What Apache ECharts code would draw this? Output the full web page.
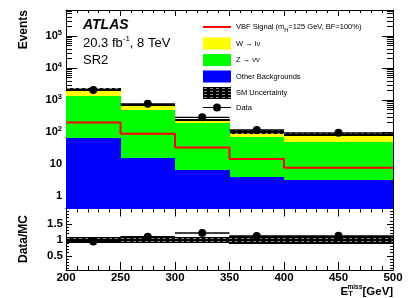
<!DOCTYPE html>
<html><head><meta charset="utf-8">
<script src="https://cdn.jsdelivr.net/npm/echarts@6/dist/echarts.min.js"></script>
<style>html,body{margin:0;padding:0;background:#fff}#c{width:415px;height:298px}</style>
</head><body><div id="c"></div>
<script>
// ---- data ----
const binEdges = [200, 250, 300, 350, 400, 500];
const dataCounts = [2050, 765, 288, 116, 95];
const otherBkg = [63, 16, 6.5, 4.0, 3.2];
const zNuNu = [1297, 471, 180, 67, 47];
const wLNu = [800, 208, 50, 32, 34];
const vbfSignal = [200, 88, 33, 14.3, 7.7];
const smRelUnc = [0.08, 0.08, 0.09, 0.13, 0.13];
const logTickValues = [1, 10, 100, 1000, 10000, 100000];
const ratioTickValues = [0.5, 1, 1.5];

const SIG = 'VBF Signal (mH=125 GeV, BF=100%)';
const W_NAME = 'W → lν', Z_NAME = 'Z → νν', O_NAME = 'Other Backgrounds', U_NAME = 'SM Uncertainty', D_NAME = 'Data';
const FONT = "'Liberation Sans', Arial, Helvetica, sans-serif";
const Y_MIN = 0.41, Y_MAX = 6.5e5;
const R_MIN = 0.06, R_MAX = 1.985;

// ---- derived tables ----
const nb = dataCounts.length;
const otherRows = [], zRows = [], wRows = [], bandRows = [], rBandRows = [], dataRows = [], ratioRows = [], sigLine = [];
for (let i = 0; i < nb; i++) {
  const lo = binEdges[i], hi = binEdges[i + 1];
  const a = otherBkg[i], b = a + zNuNu[i], c = b + wLNu[i];
  otherRows.push([lo, hi, Y_MIN, a]);
  zRows.push([lo, hi, a, b]);
  wRows.push([lo, hi, b, c]);
  bandRows.push([lo, hi, c * (1 - smRelUnc[i]), c * (1 + smRelUnc[i])]);
  rBandRows.push([lo, hi, 1 - smRelUnc[i], 1 + smRelUnc[i]]);
  const n = dataCounts[i], e = Math.sqrt(n), xc = (lo + hi) / 2;
  dataRows.push([xc, n, lo, hi, n - e, n + e]);
  const r = n / c, re = e / c;
  ratioRows.push([xc, r, lo, hi, r - re, r + re]);
  sigLine.push([lo, vbfSignal[i]]);
}
sigLine.push([binEdges[nb], vbfSignal[nb - 1]]);

const minorLog = [];
for (let d = -1; d <= 5; d++) for (let m = 2; m <= 9; m++) {
  const v = m * Math.pow(10, d);
  if (v > Y_MIN && v < Y_MAX) minorLog.push(v);
}
const minorRatio = [];
for (let k = 1; k <= 19; k++) { if (k % 5 !== 0) minorRatio.push(k / 10); }

// hatch pattern
const pc = document.createElement('canvas'); pc.width = 6; pc.height = 3;
const pg = pc.getContext('2d');
pg.fillStyle = '#000'; pg.fillRect(0, 0, 6, 3);
pg.fillStyle = '#8a8a8a'; pg.fillRect(1, 1, 3, 1);
const hatch = { image: pc, repeat: 'repeat' };

// ---- render helpers ----
function rectItem(fill) {
  return function (params, api) {
    const p0 = api.coord([api.value(0), api.value(3)]);
    const p1 = api.coord([api.value(1), api.value(2)]);
    const x0 = Math.round(p0[0]), x1 = Math.round(p1[0]);
    const y0 = Math.round(p0[1]), y1 = Math.round(p1[1]);
    return { type: 'rect', shape: { x: x0, y: y0, width: x1 - x0, height: Math.max(1, y1 - y0) }, style: { fill: fill } };
  };
}
function dataItem(params, api) {
  const c = api.coord([api.value(0), api.value(1)]);
  const l = api.coord([api.value(2), api.value(1)]);
  const r = api.coord([api.value(3), api.value(1)]);
  const lo = api.coord([api.value(0), api.value(4)]);
  const hi = api.coord([api.value(0), api.value(5)]);
  return { type: 'group', children: [
    { type: 'line', shape: { x1: l[0], y1: c[1], x2: r[0], y2: c[1] }, style: { stroke: '#000', lineWidth: 1.3 } },
    { type: 'line', shape: { x1: c[0], y1: lo[1], x2: c[0], y2: hi[1] }, style: { stroke: '#000', lineWidth: 1.3 } },
    { type: 'circle', shape: { cx: c[0], cy: c[1], r: 4 }, style: { fill: '#000' } }
  ] };
}

const tickStyle = { color: '#000', width: 1 };
function xAx(gridIndex, position, showLabels, len) {
  return { type: 'value', gridIndex, position, min: 200, max: 500, interval: 50,
    axisLine: { show: true, onZero: false, lineStyle: { color: '#000', width: 1 } },
    axisTick: { show: true, inside: true, length: len, lineStyle: tickStyle },
    minorTick: { show: true, splitNumber: 5, length: len / 2, lineStyle: tickStyle },
    axisLabel: { show: showLabels, color: '#000', fontFamily: FONT, fontWeight: 'bold', fontSize: 11.5, margin: 2 },
    splitLine: { show: false }, minorSplitLine: { show: false } };
}
function logAx(position, values, len, line, labels) {
  return { type: 'log', logBase: 10, gridIndex: 0, position, min: Y_MIN, max: Y_MAX,
    axisLine: { show: line, onZero: false, lineStyle: { color: '#000', width: 1 } },
    axisTick: { show: true, inside: true, length: len, customValues: values, lineStyle: tickStyle },
    axisLabel: { show: labels, customValues: logTickValues, margin: 4,
      formatter: function (v) {
        const e = Math.round(Math.log10(v));
        if (e === 0) return '{b|1}';
        if (e === 1) return '{b|10}';
        return '{b|10}{s|' + e + '}';
      },
      rich: {
        b: { fontFamily: FONT, fontWeight: 'bold', fontSize: 11, lineHeight: 14, color: '#000' },
        s: { fontFamily: FONT, fontWeight: 'bold', fontSize: 7.5, lineHeight: 8, verticalAlign: 'top', color: '#000' }
      } },
    splitLine: { show: false }, minorTick: { show: false } };
}
function ratioAx(position, values, len, line, labels) {
  return { type: 'value', gridIndex: 1, position, min: R_MIN, max: R_MAX,
    axisLine: { show: line, onZero: false, lineStyle: { color: '#000', width: 1 } },
    axisTick: { show: true, inside: true, length: len, customValues: values, lineStyle: tickStyle },
    axisLabel: { show: labels, customValues: ratioTickValues, margin: 3, color: '#000',
      fontFamily: FONT, fontWeight: 'bold', fontSize: 11.5 },
    splitLine: { show: false }, minorTick: { show: false } };
}

const option = {
  animation: false,
  backgroundColor: '#fff',
  grid: [
    { left: 66, right: 22, top: 10, height: 198.5, outerBoundsMode: 'none' },
    { left: 66, right: 22, top: 208.5, height: 61.5, outerBoundsMode: 'none' }
  ],
  xAxis: [
    xAx(0, 'bottom', false, 6), xAx(0, 'top', false, 6),
    xAx(1, 'bottom', true, 8), xAx(1, 'top', false, 8)
  ],
  yAxis: [
    logAx('left', logTickValues, 11, true, true),
    logAx('left', minorLog, 6, false, false),
    logAx('right', logTickValues, 11, true, false),
    logAx('right', minorLog, 6, false, false),
    ratioAx('left', ratioTickValues, 6, true, true),
    ratioAx('left', minorRatio, 3, false, false),
    ratioAx('right', ratioTickValues, 6, true, false),
    ratioAx('right', minorRatio, 3, false, false)
  ],
  legend: {
    orient: 'vertical', left: 198, top: 18, itemWidth: 28, itemHeight: 12, itemGap: 4.5,
    selectedMode: false,
    formatter: function (name) {
      if (name === SIG) return '{n|VBF Signal (m}{h|H}{n|=125 GeV, BF=100%)}';
      return '{n|' + name + '}';
    },
    textStyle: { color: '#000', rich: {
      n: { fontFamily: FONT, fontSize: 7.5, lineHeight: 12, color: '#000' },
      h: { fontFamily: FONT, fontSize: 5.5, lineHeight: 6, verticalAlign: 'bottom', color: '#000' }
    } },
    data: [
      { name: SIG, icon: 'path://M0 5 H28 V7 H0 Z' },
      { name: W_NAME, icon: 'rect' },
      { name: Z_NAME, icon: 'rect' },
      { name: O_NAME, icon: 'rect' },
      { name: U_NAME, icon: 'rect', itemStyle: { color: hatch } },
      { name: D_NAME, icon: 'path://M0 5.4 H10 V6.6 H0 Z M18 5.4 H28 V6.6 H18 Z M10 6 A4 4 0 1 1 18 6 A4 4 0 1 1 10 6 Z' }
    ]
  },
  series: [
    { type: 'custom', name: O_NAME, xAxisIndex: 0, yAxisIndex: 0, renderItem: rectItem('#0000ff'),
      itemStyle: { color: '#0000ff' }, encode: { x: [0, 1], y: [2, 3] }, data: otherRows, z: 2 },
    { type: 'custom', name: Z_NAME, xAxisIndex: 0, yAxisIndex: 0, renderItem: rectItem('#00ff00'),
      itemStyle: { color: '#00ff00' }, encode: { x: [0, 1], y: [2, 3] }, data: zRows, z: 2 },
    { type: 'custom', name: W_NAME, xAxisIndex: 0, yAxisIndex: 0, renderItem: rectItem('#ffff00'),
      itemStyle: { color: '#ffff00' }, encode: { x: [0, 1], y: [2, 3] }, data: wRows, z: 2 },
    { type: 'custom', name: U_NAME, xAxisIndex: 0, yAxisIndex: 0, renderItem: rectItem(hatch),
      itemStyle: { color: '#000' }, encode: { x: [0, 1], y: [2, 3] }, data: bandRows, z: 3 },
    { type: 'line', name: SIG, xAxisIndex: 0, yAxisIndex: 0, step: 'end', symbol: 'none',
      lineStyle: { color: '#ff0000', width: 2 }, itemStyle: { color: '#ff0000' }, data: sigLine, z: 4 },
    { type: 'custom', name: D_NAME, xAxisIndex: 0, yAxisIndex: 0, renderItem: dataItem,
      itemStyle: { color: '#000' }, encode: { x: [0, 2, 3], y: [1, 4, 5] }, data: dataRows, z: 5 },
    { type: 'custom', name: 'ratioBand', xAxisIndex: 2, yAxisIndex: 4, renderItem: rectItem(hatch),
      encode: { x: [0, 1], y: [2, 3] }, data: rBandRows, z: 3 },
    { type: 'custom', name: 'ratioData', xAxisIndex: 2, yAxisIndex: 4, renderItem: dataItem,
      encode: { x: [0, 2, 3], y: [1, 4, 5] }, data: ratioRows, z: 5 }
  ],
  graphic: [
    { type: 'text', x: 83, y: 25.5, style: { text: 'ATLAS', font: 'italic bold 14px ' + FONT, fill: '#000', textVerticalAlign: 'middle' } },
    { type: 'text', x: 83, y: 43, style: { text: '{a|20.3 fb}{s|-1}{a|, 8 TeV}', fill: '#000', textVerticalAlign: 'middle',
      rich: { a: { fontFamily: FONT, fontSize: 13, lineHeight: 16, color: '#000' },
              s: { fontFamily: FONT, fontSize: 8, lineHeight: 8, verticalAlign: 'top', color: '#000' } } } },
    { type: 'text', x: 83, y: 60.5, style: { text: 'SR2', font: '13px ' + FONT, fill: '#000', textVerticalAlign: 'middle' } },
    { type: 'text', x: 24, y: 10, rotation: Math.PI / 2, style: { text: 'Events', font: 'bold 12px ' + FONT, fill: '#000', textAlign: 'right', textVerticalAlign: 'middle' } },
    { type: 'text', x: 24, y: 239, rotation: Math.PI / 2, style: { text: 'Data/MC', font: 'bold 12px ' + FONT, fill: '#000', textAlign: 'center', textVerticalAlign: 'middle' } },
    { type: 'text', x: 340.5, y: 291.5, style: { text: 'E', font: 'bold 11.5px ' + FONT, fill: '#000', textVerticalAlign: 'middle' } },
    { type: 'text', x: 347.5, y: 287, style: { text: 'miss', font: 'bold 6.5px ' + FONT, fill: '#000', textVerticalAlign: 'middle' } },
    { type: 'text', x: 348.5, y: 294.5, style: { text: 'T', font: 'bold 7px ' + FONT, fill: '#000', textVerticalAlign: 'middle' } },
    { type: 'text', x: 362.5, y: 291.5, style: { text: '[GeV]', font: 'bold 11.5px ' + FONT, fill: '#000', textVerticalAlign: 'middle' } }
  ]
};

const chart = echarts.init(document.getElementById('c'), null, { renderer: 'canvas' });
chart.setOption(option);
</script></body></html>
